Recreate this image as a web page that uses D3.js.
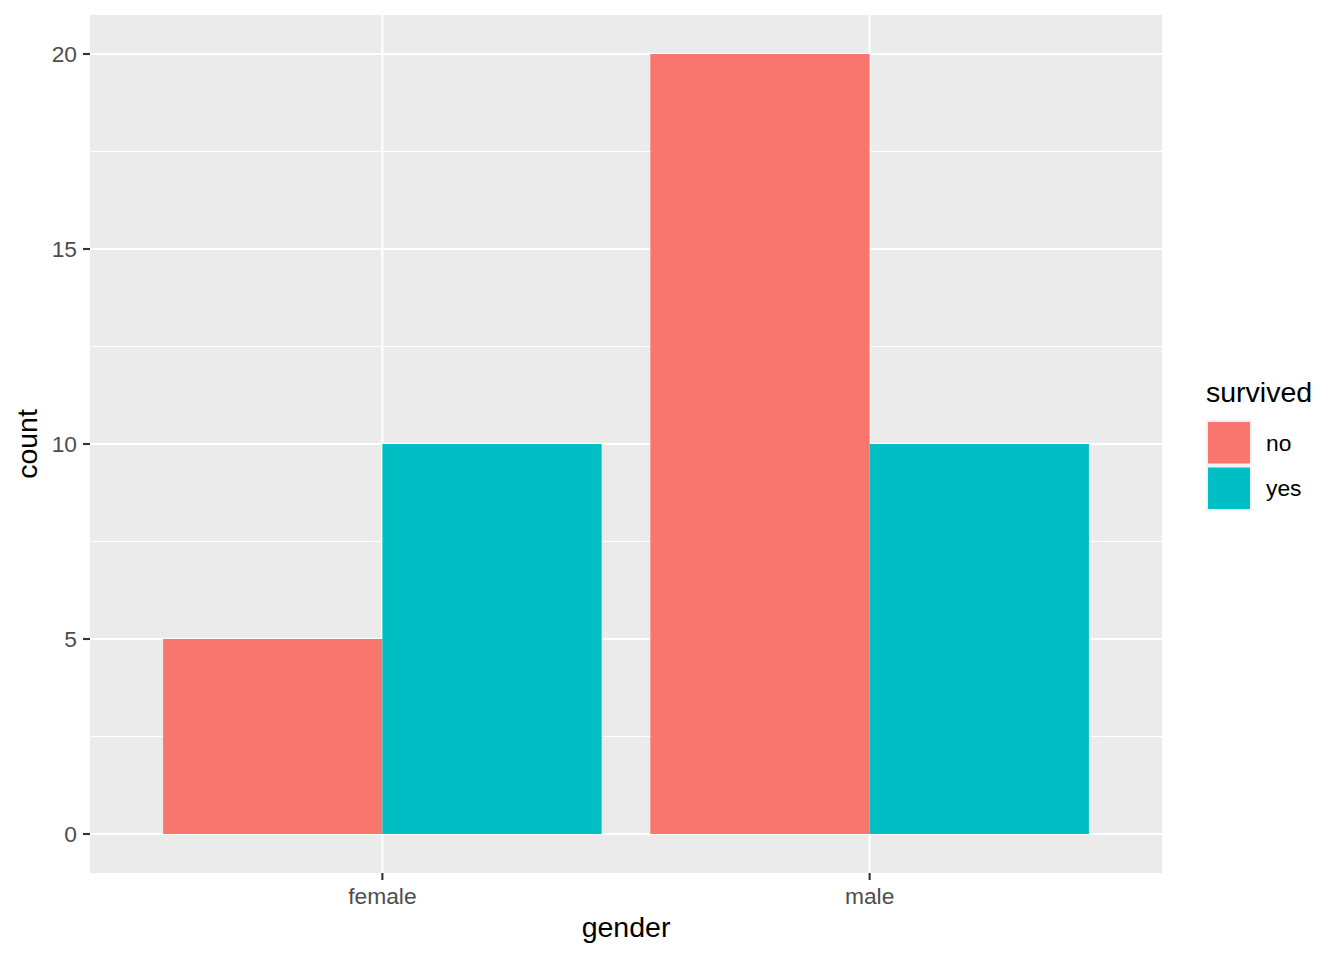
<!DOCTYPE html>
<html>
<head>
<meta charset="utf-8">
<script src="https://cdn.jsdelivr.net/npm/d3@7"></script>
<style>
  html, body { margin: 0; padding: 0; background: #fff; }
  svg { display: block; font-family: "Liberation Sans", Arial, sans-serif; }
</style>
</head>
<body>
<svg id="chart" width="1344" height="960"></svg>
<script>
const genders = ["female", "male"];
const survivedLevels = ["no", "yes"];
const countNo = [5, 20];
const countYes = [10, 10];
const yTicks = [0, 5, 10, 15, 20];
const yMinor = [2.5, 7.5, 12.5, 17.5];
const colors = ["#F8766D", "#00BFC4"];

const svg = d3.select("#chart");
const panel = { left: 90, right: 1162, top: 15, bottom: 873 };

// Continuous x on discrete positions (ggplot style expansion 0.6)
const xPos = d3.scaleLinear().domain([0.4, 2.6]).range([panel.left, panel.right]);
const y = d3.scaleLinear().domain([-1, 21]).range([panel.bottom, panel.top]);

svg.append("rect")
  .attr("x", panel.left).attr("y", panel.top)
  .attr("width", panel.right - panel.left).attr("height", panel.bottom - panel.top)
  .attr("fill", "#EBEBEB");

const g = svg.append("g");
// minor grid
g.selectAll(".minor").data(yMinor).enter().append("line")
  .attr("x1", panel.left).attr("x2", panel.right)
  .attr("y1", d => y(d)).attr("y2", d => y(d))
  .attr("stroke", "#fff").attr("stroke-width", 1.07);
// major grid
g.selectAll(".majory").data(yTicks).enter().append("line")
  .attr("x1", panel.left).attr("x2", panel.right)
  .attr("y1", d => y(d)).attr("y2", d => y(d))
  .attr("stroke", "#fff").attr("stroke-width", 2.13);
g.selectAll(".majorx").data(genders).enter().append("line")
  .attr("x1", (d, i) => xPos(i + 1)).attr("x2", (d, i) => xPos(i + 1))
  .attr("y1", panel.top).attr("y2", panel.bottom)
  .attr("stroke", "#fff").attr("stroke-width", 2.13);

// bars
const bars = [];
genders.forEach((gd, i) => {
  bars.push({ pos: i + 1, k: 0, v: countNo[i] });
  bars.push({ pos: i + 1, k: 1, v: countYes[i] });
});
g.selectAll(".bar").data(bars).enter().append("rect")
  .attr("x", d => xPos(d.pos - 0.45 + d.k * 0.45))
  .attr("width", d => xPos(d.pos) - xPos(d.pos - 0.45))
  .attr("y", d => y(d.v))
  .attr("height", d => y(0) - y(d.v))
  .attr("fill", d => colors[d.k]);

// y axis
const yAxis = svg.append("g");
yAxis.selectAll("line").data(yTicks).enter().append("line")
  .attr("x1", panel.left - 7).attr("x2", panel.left)
  .attr("y1", d => y(d)).attr("y2", d => y(d))
  .attr("stroke", "#333333").attr("stroke-width", 2.13);
yAxis.selectAll("text").data(yTicks).enter().append("text")
  .attr("x", panel.left - 13).attr("y", d => y(d))
  .attr("dy", "0.35em")
  .attr("text-anchor", "end")
  .attr("font-size", 22.8).attr("fill", "#4D4D4D")
  .text(d => d);

// x axis
const xAxis = svg.append("g");
xAxis.selectAll("line").data(genders).enter().append("line")
  .attr("x1", (d, i) => xPos(i + 1)).attr("x2", (d, i) => xPos(i + 1))
  .attr("y1", panel.bottom).attr("y2", panel.bottom + 7)
  .attr("stroke", "#333333").attr("stroke-width", 2.13);
xAxis.selectAll("text").data(genders).enter().append("text")
  .attr("x", (d, i) => xPos(i + 1)).attr("y", 904)
  .attr("text-anchor", "middle")
  .attr("font-size", 22.8).attr("fill", "#4D4D4D")
  .text(d => d);

// axis titles
svg.append("text")
  .attr("x", (panel.left + panel.right) / 2).attr("y", 937)
  .attr("text-anchor", "middle").attr("font-size", 28.5).attr("fill", "#000")
  .text("gender");
svg.append("text")
  .attr("transform", `translate(37,${(panel.top + panel.bottom) / 2}) rotate(-90)`)
  .attr("text-anchor", "middle").attr("font-size", 28.5).attr("fill", "#000")
  .text("count");

// legend
const lg = svg.append("g");
lg.append("text").attr("x", 1206).attr("y", 402)
  .attr("font-size", 28.5).attr("fill", "#000").text("survived");
survivedLevels.forEach((lv, i) => {
  const ky = 420 + i * 45.5;
  lg.append("rect").attr("x", 1206).attr("y", ky).attr("width", 46).attr("height", 45.5)
    .attr("fill", "#F2F2F2");
  lg.append("rect").attr("x", 1208).attr("y", ky + 2).attr("width", 42).attr("height", 41.5)
    .attr("fill", colors[i]);
  lg.append("text").attr("x", 1266).attr("y", ky + 22.75).attr("dy", "0.35em")
    .attr("font-size", 22.8).attr("fill", "#000").text(lv);
});
</script>
</body>
</html>
